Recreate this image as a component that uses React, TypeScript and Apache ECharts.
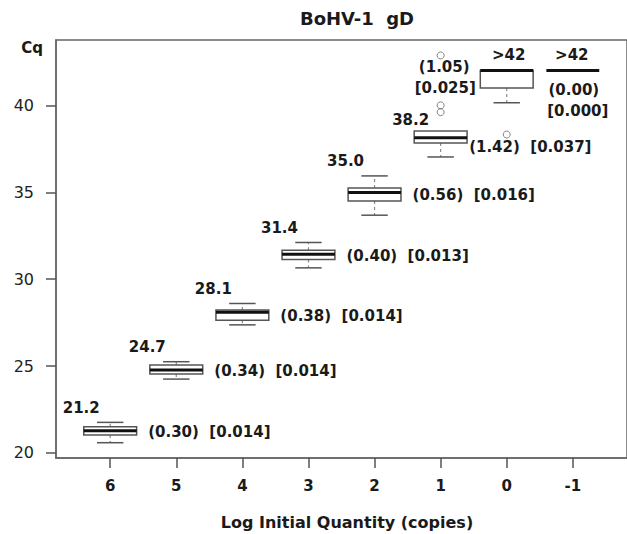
import React, { useEffect, useRef } from "react";
import * as echarts from "echarts";

const categories = ["6", "5", "4", "3", "2", "1", "0", "-1"];
const lowerWhisker = [20.59, 24.25, 27.37, 30.65, 33.68, 37.03, 40.15, 42];
const q1 = [21.03, 24.54, 27.64, 31.13, 34.5, 37.83, 41.0, 42];
const median = [21.28, 24.77, 28.1, 31.44, 34.98, 38.14, 42, 42];
const q3 = [21.51, 25.06, 28.22, 31.67, 35.25, 38.52, 42, 42];
const upperWhisker = [21.76, 25.25, 28.6, 32.11, 35.94, 38.52, 42, 42];

const outlierCategory = ["1", "1", "1", "0"];
const outlierValue = [42.87, 40.0, 39.61, 38.32];

const meanLabels = ["21.2", "24.7", "28.1", "31.4", "35.0", "38.2", ">42", ">42"];
const sdLabels = ["(0.30)", "(0.34)", "(0.38)", "(0.40)", "(0.56)", "(1.42)", "(1.05)", "(0.00)"];
const cvLabels = ["[0.014]", "[0.014]", "[0.014]", "[0.013]", "[0.016]", "[0.037]", "[0.025]", "[0.000]"];

const yTicks = [20, 25, 30, 35, 40];

const FONT = "DejaVu Sans";
const TEXT = "#1a1a1a";

function txt(x: number, y: number, text: string, align: string, size = 15) {
  return {
    type: "text",
    x,
    y,
    style: {
      text,
      fill: TEXT,
      fontFamily: FONT,
      fontWeight: "bold",
      fontSize: size,
      align,
      verticalAlign: "middle",
    },
  };
}

export default function App() {
  const ref = useRef<HTMLDivElement>(null);
  useEffect(() => {
    document.body.style.margin = "0";
    const chart = echarts.init(ref.current!, null, { renderer: "svg" });
    const positions = categories.map((_, i) => i + 1);
    const boxData = positions.map((p, i) => [p, lowerWhisker[i], q1[i], median[i], q3[i], upperWhisker[i]]);
    const outlierData = outlierCategory.map((c, i) => [categories.indexOf(c) + 1, outlierValue[i]]);

    const option: any = {
      animation: false,
      grid: {
        left: 56,
        right: -5,
        top: 40,
        bottom: 76,
        show: true,
        borderColor: "#666",
        borderWidth: 1.5,
      },
      xAxis: {
        type: "value",
        min: 0.18,
        max: 8.82,
        splitLine: { show: false },
        axisLine: { show: true, lineStyle: { color: "#666", width: 1.5 } },
        axisTick: { show: true, length: 10, customValues: positions, lineStyle: { color: "#555", width: 1.5 } },
        axisLabel: {
          customValues: positions,
          margin: 20,
          fontSize: 15,
          fontWeight: "bold",
          fontFamily: FONT,
          color: TEXT,
          formatter: (v: number) => categories[Math.round(v) - 1] ?? "",
        },
      },
      yAxis: {
        type: "value",
        min: 19.71,
        max: 43.76,
        splitLine: { show: false },
        axisLine: { show: true, lineStyle: { color: "#666", width: 1.5 } },
        axisTick: { show: true, length: 10, customValues: yTicks, lineStyle: { color: "#555", width: 1.5 } },
        axisLabel: {
          customValues: yTicks,
          margin: 22,
          fontSize: 16,
          fontFamily: FONT,
          color: "#222",
        },
      },
      graphic: [
        { type: "text", x: 357, y: 18, style: { text: "BoHV-1  gD", fill: TEXT, fontFamily: FONT, fontWeight: "bold", fontSize: 18, align: "center", verticalAlign: "middle" } },
        { type: "text", x: 43, y: 48, style: { text: "Cq", fill: TEXT, fontFamily: FONT, fontWeight: "bold", fontSize: 15, align: "right", verticalAlign: "middle" } },
        { type: "text", x: 347, y: 522, style: { text: "Log Initial Quantity (copies)", fill: TEXT, fontFamily: FONT, fontWeight: "bold", fontSize: 16, align: "center", verticalAlign: "middle" } },
      ],
      series: [
        {
          type: "custom",
          name: "box",
          data: boxData,
          encode: { x: 0, y: [1, 2, 3, 4, 5] },
          renderItem: (params: any, api: any) => {
            const x = api.value(0);
            const lo = api.value(1), a = api.value(2), m = api.value(3), b = api.value(4), hi = api.value(5);
            const pLo = api.coord([x, lo]);
            const pA = api.coord([x, a]);
            const pM = api.coord([x, m]);
            const pB = api.coord([x, b]);
            const pHi = api.coord([x, hi]);
            const bw = api.size([0.8, 0])[0];
            const cap = bw / 4;
            const cx = pM[0];
            const dash = { stroke: "#8a8a8a", lineWidth: 1.2, lineDash: [3, 3] };
            const solid = { stroke: "#555", lineWidth: 1.5 };
            const children: any[] = [];
            if (hi > b) {
              children.push({ type: "line", shape: { x1: cx, y1: pB[1], x2: cx, y2: pHi[1] }, style: dash });
              children.push({ type: "line", shape: { x1: cx - cap, y1: pHi[1], x2: cx + cap, y2: pHi[1] }, style: solid });
            }
            if (lo < a) {
              children.push({ type: "line", shape: { x1: cx, y1: pA[1], x2: cx, y2: pLo[1] }, style: dash });
              children.push({ type: "line", shape: { x1: cx - cap, y1: pLo[1], x2: cx + cap, y2: pLo[1] }, style: solid });
            }
            if (b > a) {
              children.push({
                type: "rect",
                shape: { x: cx - bw / 2, y: pB[1], width: bw, height: pA[1] - pB[1] },
                style: { fill: "#fff", stroke: "#555", lineWidth: 1.5 },
              });
            }
            children.push({
              type: "line",
              shape: { x1: cx - bw / 2, y1: pM[1], x2: cx + bw / 2, y2: pM[1] },
              style: { stroke: "#111", lineWidth: 3 },
            });
            return { type: "group", children };
          },
          z: 2,
        },
        {
          type: "scatter",
          name: "outliers",
          data: outlierData,
          symbol: "circle",
          symbolSize: 7,
          itemStyle: { color: "rgba(0,0,0,0)", borderColor: "#666", borderWidth: 1 },
          z: 4,
        },
        {
          type: "custom",
          name: "labels",
          data: boxData,
          encode: { x: 0, y: [1, 2, 3, 4, 5] },
          renderItem: (params: any, api: any) => {
            const i = params.dataIndex;
            const x = api.value(0);
            const pA = api.coord([x, api.value(2)]);
            const pB = api.coord([x, api.value(4)]);
            const pHi = api.coord([x, api.value(5)]);
            const cx = pA[0];
            const children: any[] = [];
            if (i <= 4) {
              children.push(txt(cx - 29, pHi[1] - 14.5, meanLabels[i], "center"));
              children.push(txt(cx + 38, (pA[1] + pB[1]) / 2 + 1, sdLabels[i] + "  " + cvLabels[i], "left"));
            } else if (i === 5) {
              children.push(txt(cx - 30, pB[1] - 11, meanLabels[i], "center"));
              children.push(txt(cx + 28.5, pA[1] + 3.5, sdLabels[i] + "  " + cvLabels[i], "left"));
            } else if (i === 6) {
              children.push(txt(cx + 2, pB[1] - 16, meanLabels[i], "center"));
              children.push(txt(cx - 62.5, pB[1] - 4, sdLabels[i], "center"));
              children.push(txt(cx - 61.5, pB[1] + 17.6, cvLabels[i], "center"));
            } else {
              children.push(txt(cx - 1, pB[1] - 16, meanLabels[i], "center"));
              children.push(txt(cx + 1, pB[1] + 19, sdLabels[i], "center"));
              children.push(txt(cx + 5, pB[1] + 40, cvLabels[i], "center"));
            }
            return { type: "group", children };
          },
          z: 3,
        },
      ],
    };
    chart.setOption(option);
    return () => chart.dispose();
  }, []);
  return <div ref={ref} style={{ width: 627, height: 534, overflow: "hidden" }} />;
}
